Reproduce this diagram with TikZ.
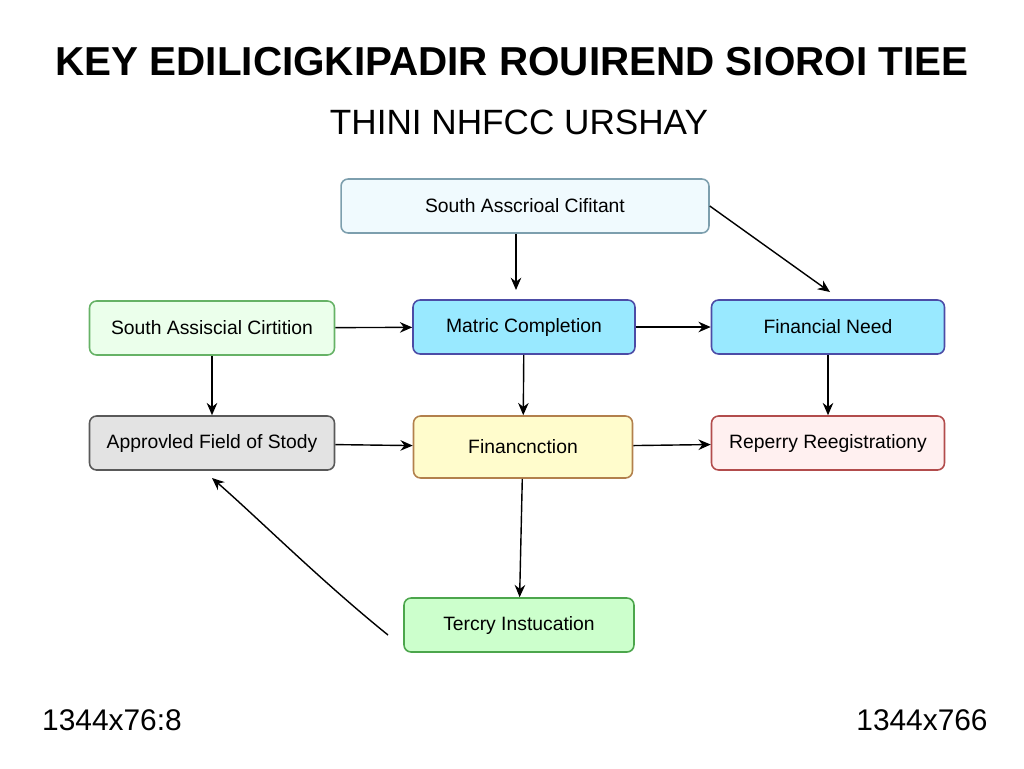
\documentclass[tikz,border=0pt]{standalone}
\usepackage{fontspec}
\setmainfont{Liberation Sans}
\usetikzlibrary{arrows.meta, positioning}
\tikzset{>={Stealth[length=7pt,width=6pt]}}

\begin{document}
\begin{tikzpicture}[
  x=0.02cm, y=-0.02cm,
  box/.style 2 args={rectangle, rounded corners=4pt, draw=#1, fill=#2, line width=0.9pt, minimum height=1.08cm, font=\fontsize{11}{13}\selectfont},
  flow/.style={->, thick, black}
]
\useasboundingbox (0,0) rectangle (1024,768);

% Titles
\node[font=\bfseries\fontsize{23}{26}\selectfont] (title) at (512,62) {KEY EDILICIGKIPADIR ROUIREND SIOROI TIEE};
\node[font=\fontsize{20}{24}\selectfont] (subtitle) at (519,122) {THINI NHFCC URSHAY};

% Boxes
\node[box={cyan!30!gray}{cyan!6}, minimum width=7.36cm] (citizen) at (525,206) {South Asscrioal Cifitant};
\node[box={green!50!black!60}{green!8}, minimum width=4.9cm] (citiz) at (212,328) {South Assiscial Cirtition};
\node[box={blue!50!black!70}{blue!22!cyan!40}, minimum width=4.44cm] (matric) at (524,327) {Matric Completion};
\node[box={blue!50!black!70}{blue!22!cyan!40}, minimum width=4.66cm] (need) at (828,327) {Financial Need};
\node[box={gray!70!black}{gray!22}, minimum width=4.9cm] (field) at (212,443) {Approvled Field of Stody};
\node[box={orange!40!gray}{yellow!20}, minimum width=4.38cm, minimum height=1.24cm] (finance) at (523,447) {Financnction};
\node[box={red!40!gray}{red!6}, minimum width=4.66cm] (register) at (828,443) {Reperry Reegistrationy};
\node[box={green!50!black!70}{green!20}, minimum width=4.6cm] (tertiary) at (519,625) {Tercry Instucation};

% Corner labels
\node[font=\fontsize{17}{20}\selectfont] (lleft) at (112,720) {1344x76:8};
\node[font=\fontsize{17}{20}\selectfont] (lright) at (922,720) {1344x766};

% Arrows
\coordinate (tail) at (388,635);
\draw[flow] (citizen.south -| 516,0) -- (516,290);
\draw[flow] (citizen.east) -- (830,292);
\draw[flow] (citiz) -- (matric);
\draw[flow] (matric) -- (need);
\draw[flow] (citiz) -- (field);
\draw[flow] (matric) -- (finance);
\draw[flow] (need) -- (register);
\draw[flow] (field) -- (finance);
\draw[flow] (finance) -- (register);
\draw[flow] (finance) -- (tertiary);
\draw[flow] (tail) .. controls (320,580) and (260,520) .. (212,478);

\end{tikzpicture}
\end{document}
